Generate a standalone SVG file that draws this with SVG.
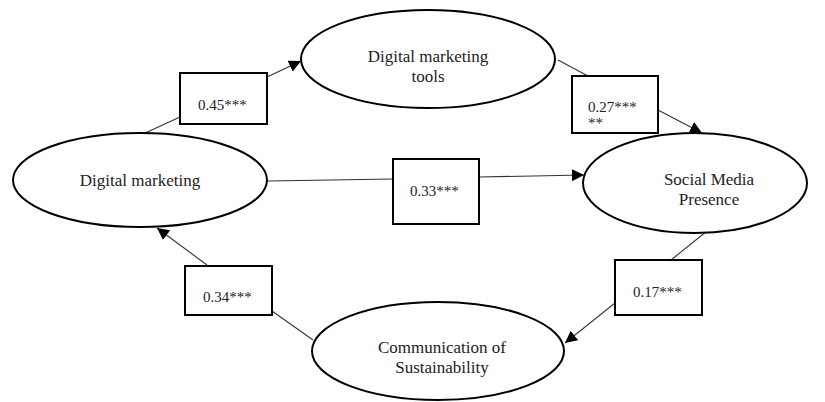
<svg xmlns="http://www.w3.org/2000/svg" width="825" height="402" viewBox="0 0 825 402">
  <style>
    .node { fill: #fff; stroke: #000; stroke-width: 2; }
    .lbl { font-family: "Liberation Serif", "Times New Roman", serif; font-size: 17px; fill: #222; text-anchor: middle; }
    .coef { fill: #fff; stroke: #000; stroke-width: 2; }
    .val { font-family: "Liberation Serif", "Times New Roman", serif; font-size: 15px; fill: #222; }
    .edge { stroke: #333; stroke-width: 1.1; fill: none; }
  </style>
  <defs>
    <marker id="arrow" viewBox="0 0 10 10" refX="10" refY="5" markerWidth="12" markerHeight="12" markerUnits="userSpaceOnUse" orient="auto">
      <path d="M0,0 L10,5 L0,10 z" fill="#000"/>
    </marker>
  </defs>

  <!-- connectors -->
  <g id="connectors">
    <line class="edge" x1="143" y1="134" x2="180" y2="117"/>
    <line class="edge" x1="267" y1="77" x2="301" y2="61" marker-end="url(#arrow)"/>
    <line class="edge" x1="558" y1="60" x2="588" y2="76"/>
    <line class="edge" x1="658" y1="110" x2="702" y2="133" marker-end="url(#arrow)"/>
    <line class="edge" x1="268" y1="181" x2="393" y2="179"/>
    <line class="edge" x1="479" y1="177" x2="584" y2="175" marker-end="url(#arrow)"/>
    <line class="edge" x1="712" y1="227" x2="671" y2="260"/>
    <line class="edge" x1="615" y1="303" x2="565" y2="343" marker-end="url(#arrow)"/>
    <line class="edge" x1="313" y1="340" x2="272" y2="311"/>
    <line class="edge" x1="207" y1="265" x2="157" y2="228" marker-end="url(#arrow)"/>
  </g>

  <!-- coefficient boxes -->
  <g id="coef-045">
    <rect class="coef" x="180" y="73" width="87" height="51"/>
    <text class="val" x="198" y="110">0.45***</text>
  </g>
  <g id="coef-027">
    <rect class="coef" x="572" y="76" width="86" height="57"/>
    <text class="val" x="588" y="112">0.27***</text>
    <text class="val" x="588" y="128">**</text>
  </g>
  <g id="coef-033">
    <rect class="coef" x="393" y="159" width="86" height="65"/>
    <text class="val" x="410" y="196">0.33***</text>
  </g>
  <g id="coef-034">
    <rect class="coef" x="185" y="266" width="87" height="49"/>
    <text class="val" x="203" y="302">0.34***</text>
  </g>
  <g id="coef-017">
    <rect class="coef" x="615" y="260" width="87" height="55"/>
    <text class="val" x="633" y="297">0.17***</text>
  </g>

  <!-- constructs -->
  <g id="digital-marketing-tools">
    <ellipse class="node" cx="428" cy="59" rx="127" ry="49"/>
    <text class="lbl" x="428" y="62">Digital marketing</text>
    <text class="lbl" x="428" y="82">tools</text>
  </g>
  <g id="digital-marketing">
    <ellipse class="node" cx="140" cy="180" rx="127" ry="47"/>
    <text class="lbl" x="140" y="186">Digital marketing</text>
  </g>
  <g id="social-media-presence">
    <ellipse class="node" cx="695" cy="183" rx="112" ry="50"/>
    <text class="lbl" x="709" y="185">Social Media</text>
    <text class="lbl" x="709" y="205">Presence</text>
  </g>
  <g id="communication-of-sustainability">
    <ellipse class="node" cx="438" cy="351" rx="126" ry="49"/>
    <text class="lbl" x="442" y="353">Communication of</text>
    <text class="lbl" x="442" y="373">Sustainability</text>
  </g>
</svg>
